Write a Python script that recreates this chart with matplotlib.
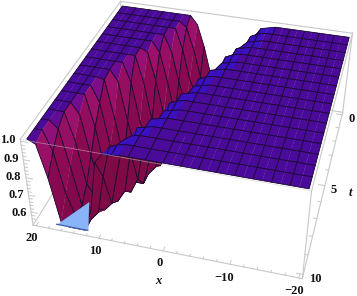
import numpy as np
import matplotlib
matplotlib.use("Agg")
import matplotlib.pyplot as plt
from matplotlib.colors import LinearSegmentedColormap, to_rgba
from mpl_toolkits.mplot3d.art3d import Poly3DCollection

# ---------------------------
# 1. Datos
# ---------------------------
x_vals = [20, 18.75, 17.5, 16.25, 15, 13.75, 12.5, 11.25, 10, 8.75, 7.5, 6.25, 5, 3.75, 2.5, 1.25, 0,
          -1.25, -2.5, -3.75, -5, -6.25, -7.5, -8.75, -10, -11.25, -12.5, -13.75, -15, -16.25,
          -17.5, -18.75, -20]
t_vals = [0, 0.625, 1.25, 1.875, 2.5, 3.125, 3.75, 4.375, 5, 5.625, 6.25, 6.875, 7.5, 8.125, 8.75, 9.375, 10]

# altura en centesimas, una fila por t; lo que falta a la derecha es meseta (100)
z_pct = [
    [100, 100, 100, 100, 100, 100, 100, 100, 100, 100, 100, 95, 82, 65, 62, 62, 62, 72, 82, 92, 98, 99],
    [100, 100, 100, 100, 100, 100, 100, 100, 100, 100, 97, 84, 68, 61, 61, 61, 67, 78, 88, 97, 99],
    [100, 100, 100, 100, 100, 100, 100, 100, 100, 100, 88, 70, 60, 60, 60, 60, 72, 83, 94, 98, 99],
    [100, 100, 100, 100, 100, 100, 100, 100, 100, 91, 73, 58, 58, 58, 58, 66, 78, 90, 98, 99],
    [100, 100, 100, 100, 100, 100, 100, 100, 94, 77, 57, 57, 57, 57, 59, 72, 85, 97, 99],
    [100, 100, 100, 100, 100, 100, 100, 98, 82, 62, 56, 56, 56, 56, 65, 80, 93, 98, 99],
    [100, 100, 100, 100, 100, 100, 100, 85, 62, 55, 55, 55, 55, 57, 73, 88, 98, 99],
    [100, 100, 100, 100, 100, 100, 89, 66, 53, 53, 53, 53, 53, 65, 82, 97, 99],
    [100, 100, 100, 100, 100, 94, 71, 52, 52, 52, 52, 52, 56, 75, 92, 98, 99],
    [100, 100, 100, 100, 99, 78, 51, 51, 51, 51, 51, 51, 67, 85, 98, 99],
    [100, 100, 100, 100, 91, 66, 50, 50, 50, 50, 50, 58, 78, 97, 99],
    [100, 100, 100, 100, 82, 54, 50, 50, 50, 50, 50, 70, 91, 98, 99],
    [100, 100, 100, 94, 71, 50, 50, 50, 50, 50, 62, 84, 98, 99],
    [100, 100, 100, 85, 60, 50, 50, 50, 50, 60, 84, 98, 99],
    [100, 100, 96, 76, 50, 50, 50, 50, 58, 78, 96, 99],
    [100, 100, 89, 66, 50, 50, 50, 58, 80, 97, 99],
    [100, 98, 80, 55, 50, 50, 50, 66, 94, 99, 99],
]

floor_x = [17, 12, 14.2]
floor_t = [10, 10, 8.5]

x_ticks = [20, 10, 0, -10, -20]
t_ticks = [0, 5, 10]
z_ticks = [0.6, 0.7, 0.8, 0.9, 1.0]
x_minor = [18, 16, 14, 12, 8, 6, 4, 2, -2, -4, -6, -8, -12, -14, -16, -18]
t_minor = [1, 2, 3, 4, 6, 7, 8, 9]
z_minor = [.56, .58, .62, .64, .66, .68, .72, .74, .76, .78, .82, .84, .86, .88, .92, .94, .96, .98]

Z_MIN, Z_MAX = 0.52, 1.01
X_LIM = (-20.5, 20.5)
T_LIM = (-0.2, 10.2)

# ---------------------------
# 2. Figura y camara
# ---------------------------
plt.rcParams["font.family"] = ["Liberation Serif", "DejaVu Serif"]
W, H = 357, 296
SIDE = 371.3
fig = plt.figure(figsize=(W / 100, H / 100), dpi=100)
ax = fig.add_axes([10.44 / W, -18.84 / H, SIDE / W, SIDE / H], projection="3d")
ax.set_xlim(*X_LIM)
ax.set_ylim(*T_LIM)
ax.set_zlim(Z_MIN, Z_MAX)
ax.view_init(36.32, 105.03, -0.34)
ax.set_box_aspect((1, 1.02, 0.396), zoom=1.0)
ax.set_proj_type("persp", focal_length=0.4323)
ax.set_axis_off()
ax.computed_zorder = False

# ---------------------------
# 3. Superficie: celdas de atras hacia adelante, malla cada 2 columnas
# ---------------------------
Z = np.clip(np.array([r + [100] * (len(x_vals) - len(r)) for r in z_pct]) / 100, 0.53, 1.0)

cmap = LinearSegmentedColormap.from_list(
    "height",
    [(0.0, "#7d0a48"), (0.6, "#8c0a54"), (0.9, "#9c126e"), (0.97, "#6e0c90"), (1.0, "#4a0a9a")],
)

def half_color(r, c):
    m = Z[r:r + 2, c:c + 2].mean()
    sl = Z[r:r + 2, c + 1].sum() - Z[r:r + 2, c].sum()
    if sl > 0.005:
        return to_rgba("#7e0a46") if m < 0.965 else to_rgba("#3a10c0")
    return cmap((m - 0.53) / 0.47)

def pt(r, c):
    return (x_vals[c], t_vals[r], Z[r, c])

order = 2.0
for j in range(len(t_vals) - 1):
    for i in range(0, len(x_vals) - 2, 2):
        for c in (i, i + 1):
            face = [pt(j, c), pt(j, c + 1), pt(j + 1, c + 1), pt(j + 1, c)]
            fill = half_color(j, c)
            ax.add_collection3d(Poly3DCollection([face], facecolors=[fill], edgecolors=[fill],
                                                 linewidths=0.2, zorder=order))
        ring = [pt(j, i), pt(j, i + 1), pt(j, i + 2), pt(j + 1, i + 2), pt(j + 1, i + 1), pt(j + 1, i)]
        order += 0.001
        ax.add_collection3d(Poly3DCollection([ring], facecolors=[(0, 0, 0, 0)], edgecolors=["#1c0a30"],
                                             linewidths=0.6, zorder=order))
        order += 0.001

ax.add_collection3d(Poly3DCollection([list(zip(floor_x, floor_t, [0.53] * 3))], facecolors=["#8ab4f8"],
                                     edgecolors=["#8ab4f8"], linewidths=0.2, zorder=order + 1))
ax.plot(floor_x[:2], floor_t[:2], [0.53, 0.53], color="#3a5aa8", lw=0.8, zorder=order + 2)
top = order + 3

# ---------------------------
# 4. Caja y marcas
# ---------------------------
GREY = "#c8c8c8"
x0, x1 = X_LIM[1], X_LIM[0]
t0, t1 = T_LIM
back = [((x0, x1), (t0, t0), (Z_MIN, Z_MIN)), ((x0, x0), (t0, t0), (Z_MIN, Z_MAX)),
        ((x0, x0), (t0, t1), (Z_MIN, Z_MIN))]
front = [((x0, x1), (t0, t0), (Z_MAX, Z_MAX)), ((x0, x0), (t0, t1), (Z_MAX, Z_MAX)),
         ((x1, x1), (t0, t1), (Z_MAX, Z_MAX)),
         ((x0, x1), (t1, t1), (Z_MIN, Z_MIN)), ((x1, x1), (t0, t1), (Z_MIN, Z_MIN)),
         ((x0, x0), (t1, t1), (Z_MIN, Z_MAX)), ((x1, x1), (t1, t1), (Z_MIN, Z_MAX)),
         ((x1, x1), (t0, t0), (Z_MIN, Z_MAX))]
for e in back:
    ax.plot(*e, color=GREY, lw=0.8, zorder=1)
for e in front:
    ax.plot(*e, color=GREY, lw=0.8, zorder=top)
ax.plot((x0, x1), (t1, t1), (Z_MAX, Z_MAX), color=GREY, lw=0.6, alpha=0.55, zorder=top)

for v, ln in [(v, 0.2) for v in x_ticks] + [(v, 0.1) for v in x_minor]:
    ax.plot((v, v), (t1, t1 - ln), (Z_MIN, Z_MIN), color=GREY, lw=0.7, zorder=top)
for v, ln in [(v, 1.0) for v in t_ticks] + [(v, 0.5) for v in t_minor]:
    ax.plot((x1, x1 + ln), (v, v), (Z_MIN, Z_MIN), color=GREY, lw=0.7, zorder=top)
for v, ln in [(v, 1.0) for v in z_ticks] + [(v, 0.5) for v in z_minor]:
    ax.plot((x0, x0 - ln), (t1, t1), (v, v), color=GREY, lw=0.7, zorder=top)

# ---------------------------
# 5. Textos
# ---------------------------
def px_text(px, py, s, **kw):
    fig.text(px / W, 1 - py / H, s, ha="center", va="center", fontsize=9,
             fontweight="bold", color="#111111", **kw)

for s, p in zip(x_ticks, [(32, 238), (95, 251), (160, 263), (224, 278), (294, 291)]):
    px_text(*p, str(s).replace("-", "\u2212"))
for s, p in zip(t_ticks, [(352, 119), (334, 190), (315, 279)]):
    px_text(*p, str(s))
for s, p in zip(z_ticks, [(19, 213), (16, 195), (13, 177), (11, 159), (8, 140)]):
    px_text(*p, f"{s:.1f}")
px_text(158, 281, "x", style="italic")
px_text(350, 193, "t", style="italic")

fig.savefig("out.png", dpi=100)
